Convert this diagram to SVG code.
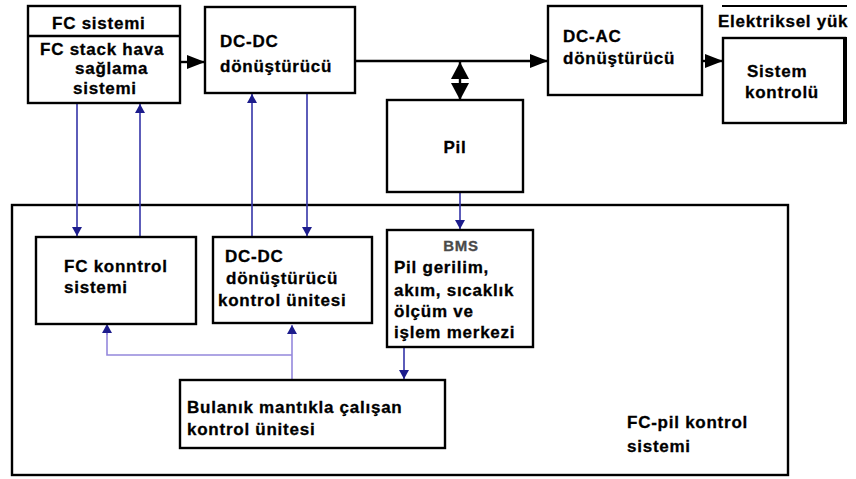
<svg xmlns="http://www.w3.org/2000/svg" width="856" height="479" viewBox="0 0 856 479">
<style>
.box{fill:#fff;stroke:#000;stroke-width:2.4}
.t{font-family:"Liberation Sans",Arial,sans-serif;font-weight:bold;font-size:17px;letter-spacing:0.75px;fill:#000;stroke:#000;stroke-width:0.3}
.k{stroke:#000;stroke-width:2.4;fill:none}
.b{stroke:#3434a8;stroke-width:1.6;fill:none}
.l{stroke:#9488dc;stroke-width:1.6;fill:none}
</style>
<defs>
<marker id="ak" markerUnits="userSpaceOnUse" markerWidth="18" markerHeight="14" refX="18" refY="7" orient="auto"><path d="M0,0 L18,7 L0,14 z" fill="#000"/></marker>
<marker id="ad" markerUnits="userSpaceOnUse" markerWidth="17" markerHeight="18" refX="17" refY="9" orient="auto"><path d="M0,0 L17,9 L0,18 z" fill="#000"/></marker>
<marker id="ab" markerUnits="userSpaceOnUse" markerWidth="9" markerHeight="10" refX="9" refY="5" orient="auto"><path d="M0,0 L9,5 L0,10 z" fill="#1c1c8c"/></marker>
</defs>
<rect width="856" height="479" fill="#fff"/>

<g id="outer">
<rect x="12" y="205" width="776" height="270" class="box"/>
<text class="t" x="627" y="428">FC-pil kontrol</text>
<text class="t" x="627" y="452">sistemi</text>
</g>

<g id="connectors">
<line x1="180" y1="62" x2="205" y2="62" class="k" marker-end="url(#ak)"/>
<line x1="355" y1="61" x2="548" y2="61" class="k" marker-end="url(#ak)"/>
<line x1="702" y1="61" x2="723" y2="61" class="k" marker-end="url(#ak)"/>
<line x1="460" y1="80" x2="460" y2="62" class="k" marker-end="url(#ad)"/>
<line x1="460" y1="80" x2="460" y2="100" class="k" marker-end="url(#ad)"/>
<line x1="77" y1="104" x2="77" y2="236" class="b" marker-end="url(#ab)"/>
<line x1="140" y1="237" x2="140" y2="104" class="b" marker-end="url(#ab)"/>
<line x1="252" y1="237" x2="252" y2="94" class="b" marker-end="url(#ab)"/>
<line x1="307" y1="93" x2="307" y2="236" class="b" marker-end="url(#ab)"/>
<line x1="460" y1="192" x2="460" y2="229" class="b" marker-end="url(#ab)"/>
<line x1="404" y1="347" x2="404" y2="379" class="b" marker-end="url(#ab)"/>
<line x1="292" y1="380" x2="292" y2="325" class="l" marker-end="url(#ab)"/>
<polyline points="292,355 107,355 107,330" class="l"/>
<line x1="107" y1="335" x2="107" y2="324" class="l" marker-end="url(#ab)"/>
</g>

<g id="fc-sistemi">
<rect x="28" y="6" width="152" height="97" class="box"/>
<line x1="28" y1="36" x2="180" y2="36" class="k"/>
<text class="t" x="52" y="29">FC sistemi</text>
<text class="t" x="40" y="55">FC stack hava</text>
<text class="t" x="75" y="74">sağlama</text>
<text class="t" x="73" y="94">sistemi</text>
</g>

<g id="dcdc">
<rect x="205" y="7" width="150" height="86" class="box"/>
<text class="t" x="220" y="47">DC-DC</text>
<text class="t" x="220" y="72">dönüştürücü</text>
</g>

<g id="dcac">
<rect x="548" y="6" width="154" height="89" class="box"/>
<text class="t" x="563" y="42">DC-AC</text>
<text class="t" x="563" y="64">dönüştürücü</text>
</g>

<g id="elektriksel-yuk">
<line x1="722" y1="6" x2="847" y2="6" stroke="#000" stroke-width="1.8"/>
<text class="t" x="718" y="27">Elektriksel yük</text>
<rect x="723" y="38" width="122" height="85" class="box"/>
<line x1="845" y1="37" x2="845" y2="124" stroke="#000" stroke-width="4"/>
<text class="t" x="747" y="77">Sistem</text>
<text class="t" x="745" y="98">kontrolü</text>
</g>

<g id="pil">
<rect x="387" y="100" width="136" height="92" class="box"/>
<text class="t" x="455" y="153" text-anchor="middle">Pil</text>
</g>

<g id="fc-kontrol">
<rect x="36" y="237" width="160" height="87" class="box"/>
<text class="t" x="64" y="272">FC konntrol</text>
<text class="t" x="64" y="293">sistemi</text>
</g>

<g id="dcdc-kontrol">
<rect x="213" y="237" width="159" height="86" class="box"/>
<text class="t" x="225" y="262">DC-DC</text>
<text class="t" x="226" y="284">dönüştürücü</text>
<text class="t" x="218" y="306">kontrol ünitesi</text>
</g>

<g id="bms">
<rect x="387" y="230" width="146" height="117" class="box"/>
<text class="t" x="461" y="251" text-anchor="middle" style="fill:#4a4a4a;stroke:#4a4a4a;font-size:15px">BMS</text>
<text class="t" x="394" y="273">Pil gerilim,</text>
<text class="t" x="394" y="296">akım, sıcaklık</text>
<text class="t" x="394" y="317">ölçüm ve</text>
<text class="t" x="394" y="338">işlem merkezi</text>
</g>

<g id="bulanik">
<rect x="180" y="380" width="265" height="68" class="box"/>
<text class="t" x="187" y="413">Bulanık mantıkla çalışan</text>
<text class="t" x="187" y="435">kontrol ünitesi</text>
</g>
</svg>
